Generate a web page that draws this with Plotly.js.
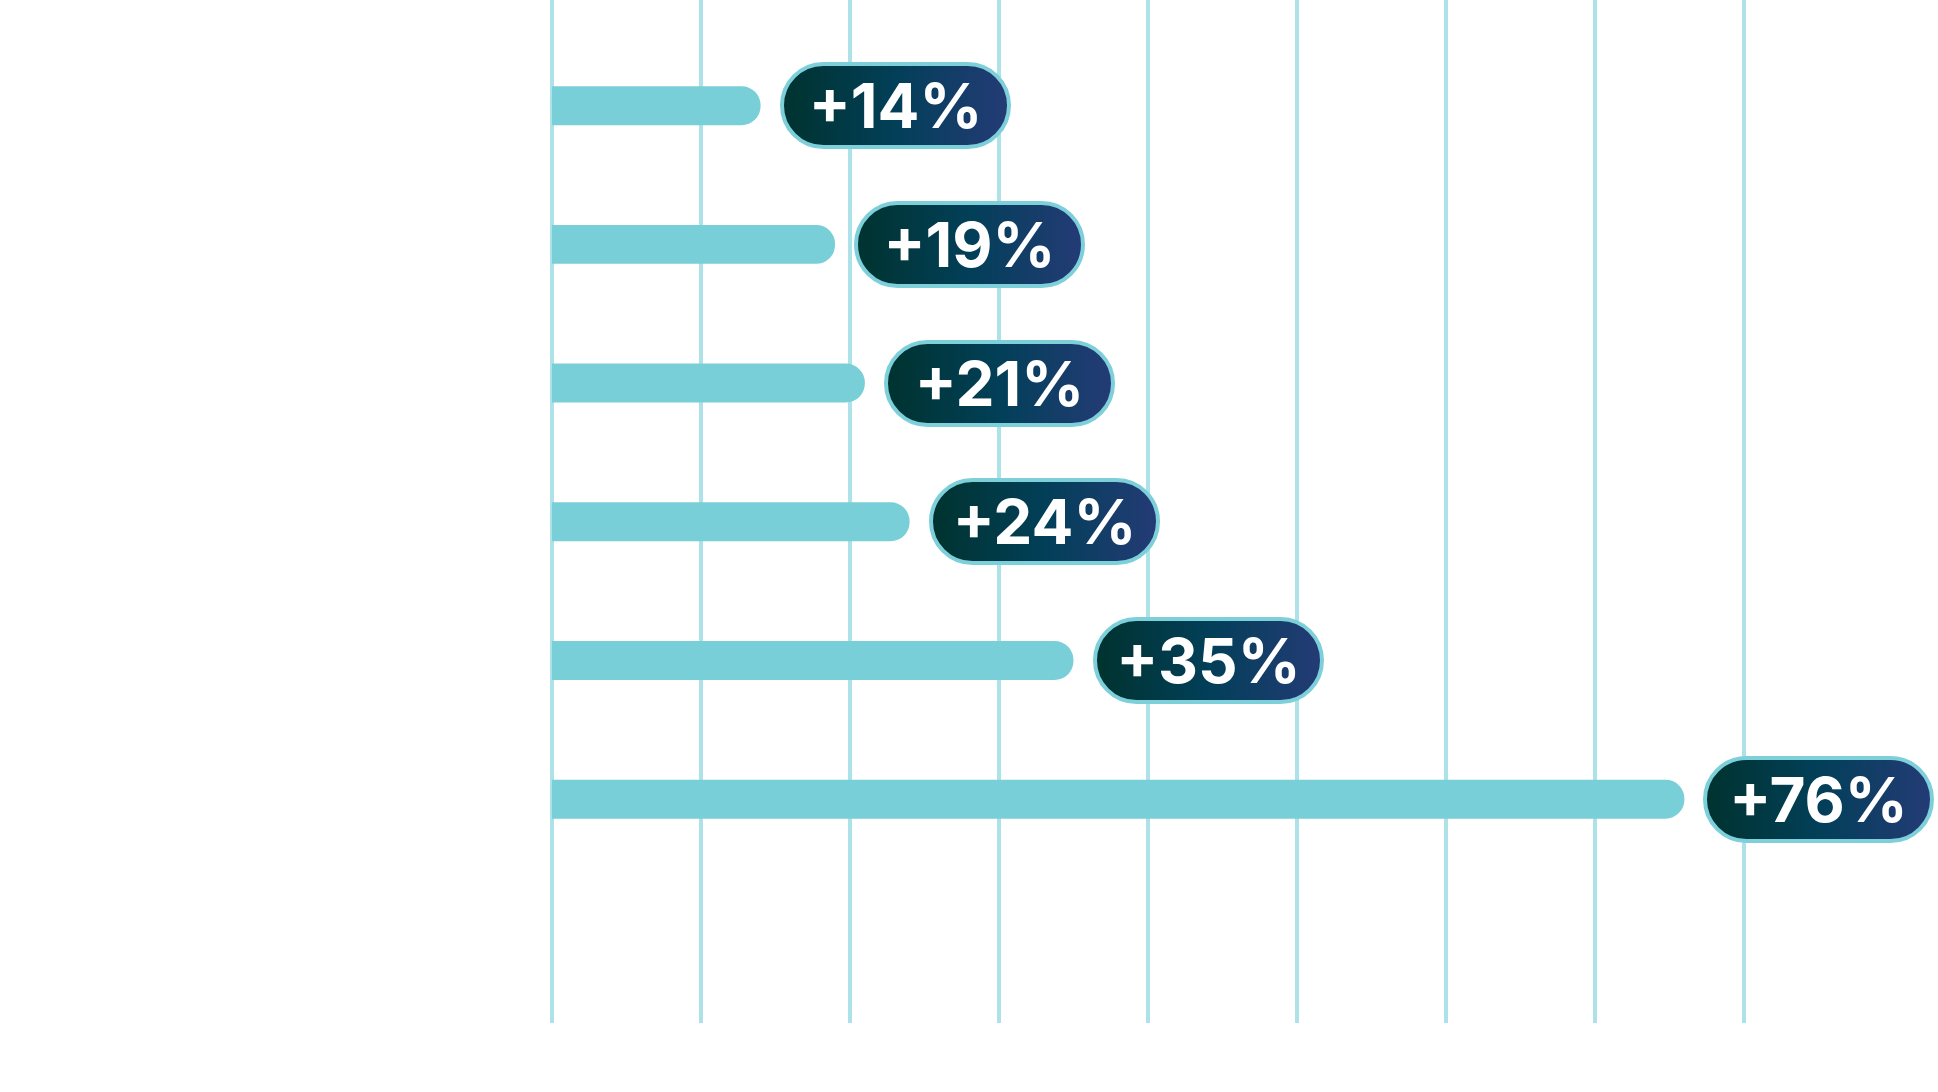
<!DOCTYPE html>
<html>
<head>
<meta charset="utf-8">
<script src="https://cdn.plot.ly/plotly-3.0.1.min.js"></script>
<style>
  html, body { margin: 0; padding: 0; background: #ffffff; }
  #chart { width: 1938px; height: 1092px; }
</style>
</head>
<body>
<div id="chart"></div>
<script>
// bar chart of growth, labels in pills at the bar ends

var categories = ["Row 1", "Row 2", "Row 3", "Row 4", "Row 5", "Row 6"];
var growth = [14, 19, 21, 24, 35, 76];
var gridTicks = [0, 10, 20, 30, 40, 50, 60, 70, 80];

var barColor = "#79cfd8";
var gridColor = "#ade3e8";
var pillBorder = "#7dd0da";

var trace = {
    type: "bar",
    orientation: "h",
    y: categories,
    x: growth,
    width: 0.281,
    marker: { color: barColor, cornerradius: "50%", line: { width: 0 } },
    hoverinfo: "skip"
};

var annotations = [];
for (let i = 0; i < categories.length; i++) {
    annotations.push({
        x: growth[i],
        y: categories[i],
        xref: "x",
        yref: "y",
        xanchor: "left",
        yanchor: "middle",
        xshift: 19,
        showarrow: false,
        text: "+" + growth[i] + "%",
        font: { family: "Inter", size: 62, color: "#ffffff", weight: 700 },
        width: 223,
        height: 79,
        align: "center",
        valign: "middle",
        bgcolor: "#033f58",
        bordercolor: pillBorder,
        borderwidth: 4,
        borderpad: 0
    });
}

var layout = {
    width: 1938,
    height: 1092,
    margin: { l: 549, r: 191, t: 0, b: 69 },
    paper_bgcolor: "#ffffff",
    plot_bgcolor: "#ffffff",
    showlegend: false,
    xaxis: {
        range: [-0.2, 80.2],
        tickvals: gridTicks,
        showticklabels: false,
        ticks: "",
        showgrid: true,
        gridcolor: gridColor,
        gridwidth: 4,
        zeroline: false,
        showline: false,
        fixedrange: true
    },
    yaxis: {
        type: "category",
        range: [6.614, -0.762],
        showticklabels: false,
        ticks: "",
        showgrid: false,
        zeroline: false,
        showline: false,
        fixedrange: true
    },
    annotations: annotations
};

Plotly.newPlot("chart", [trace], layout, { displayModeBar: false, staticPlot: true }).then(function (gd) {
    // turn the annotation boxes into rounded pills with a gradient fill
    var rects = gd.querySelectorAll(".annotation .bg");
    rects.forEach(function (r) {
        var svg = r.ownerSVGElement;
        if (!svg.querySelector("#pillGrad")) {
            var ns = "http://www.w3.org/2000/svg";
            var defs = document.createElementNS(ns, "defs");
            var grad = document.createElementNS(ns, "linearGradient");
            grad.setAttribute("id", "pillGrad");
            grad.setAttribute("x1", "0"); grad.setAttribute("x2", "1");
            grad.setAttribute("y1", "0"); grad.setAttribute("y2", "0");
            [["0", "#00332f"], ["0.5", "#023f58"], ["1", "#243b76"]].forEach(function (s) {
                var stop = document.createElementNS(ns, "stop");
                stop.setAttribute("offset", s[0]);
                stop.setAttribute("stop-color", s[1]);
                grad.appendChild(stop);
            });
            defs.appendChild(grad);
            svg.insertBefore(defs, svg.firstChild);
        }
        var h = parseFloat(r.getAttribute("height"));
        r.setAttribute("rx", h / 2);
        r.setAttribute("ry", h / 2);
        r.style.fill = "url(#pillGrad)";
        r.style.fillOpacity = 1;
    });
});
</script>
</body>
</html>
